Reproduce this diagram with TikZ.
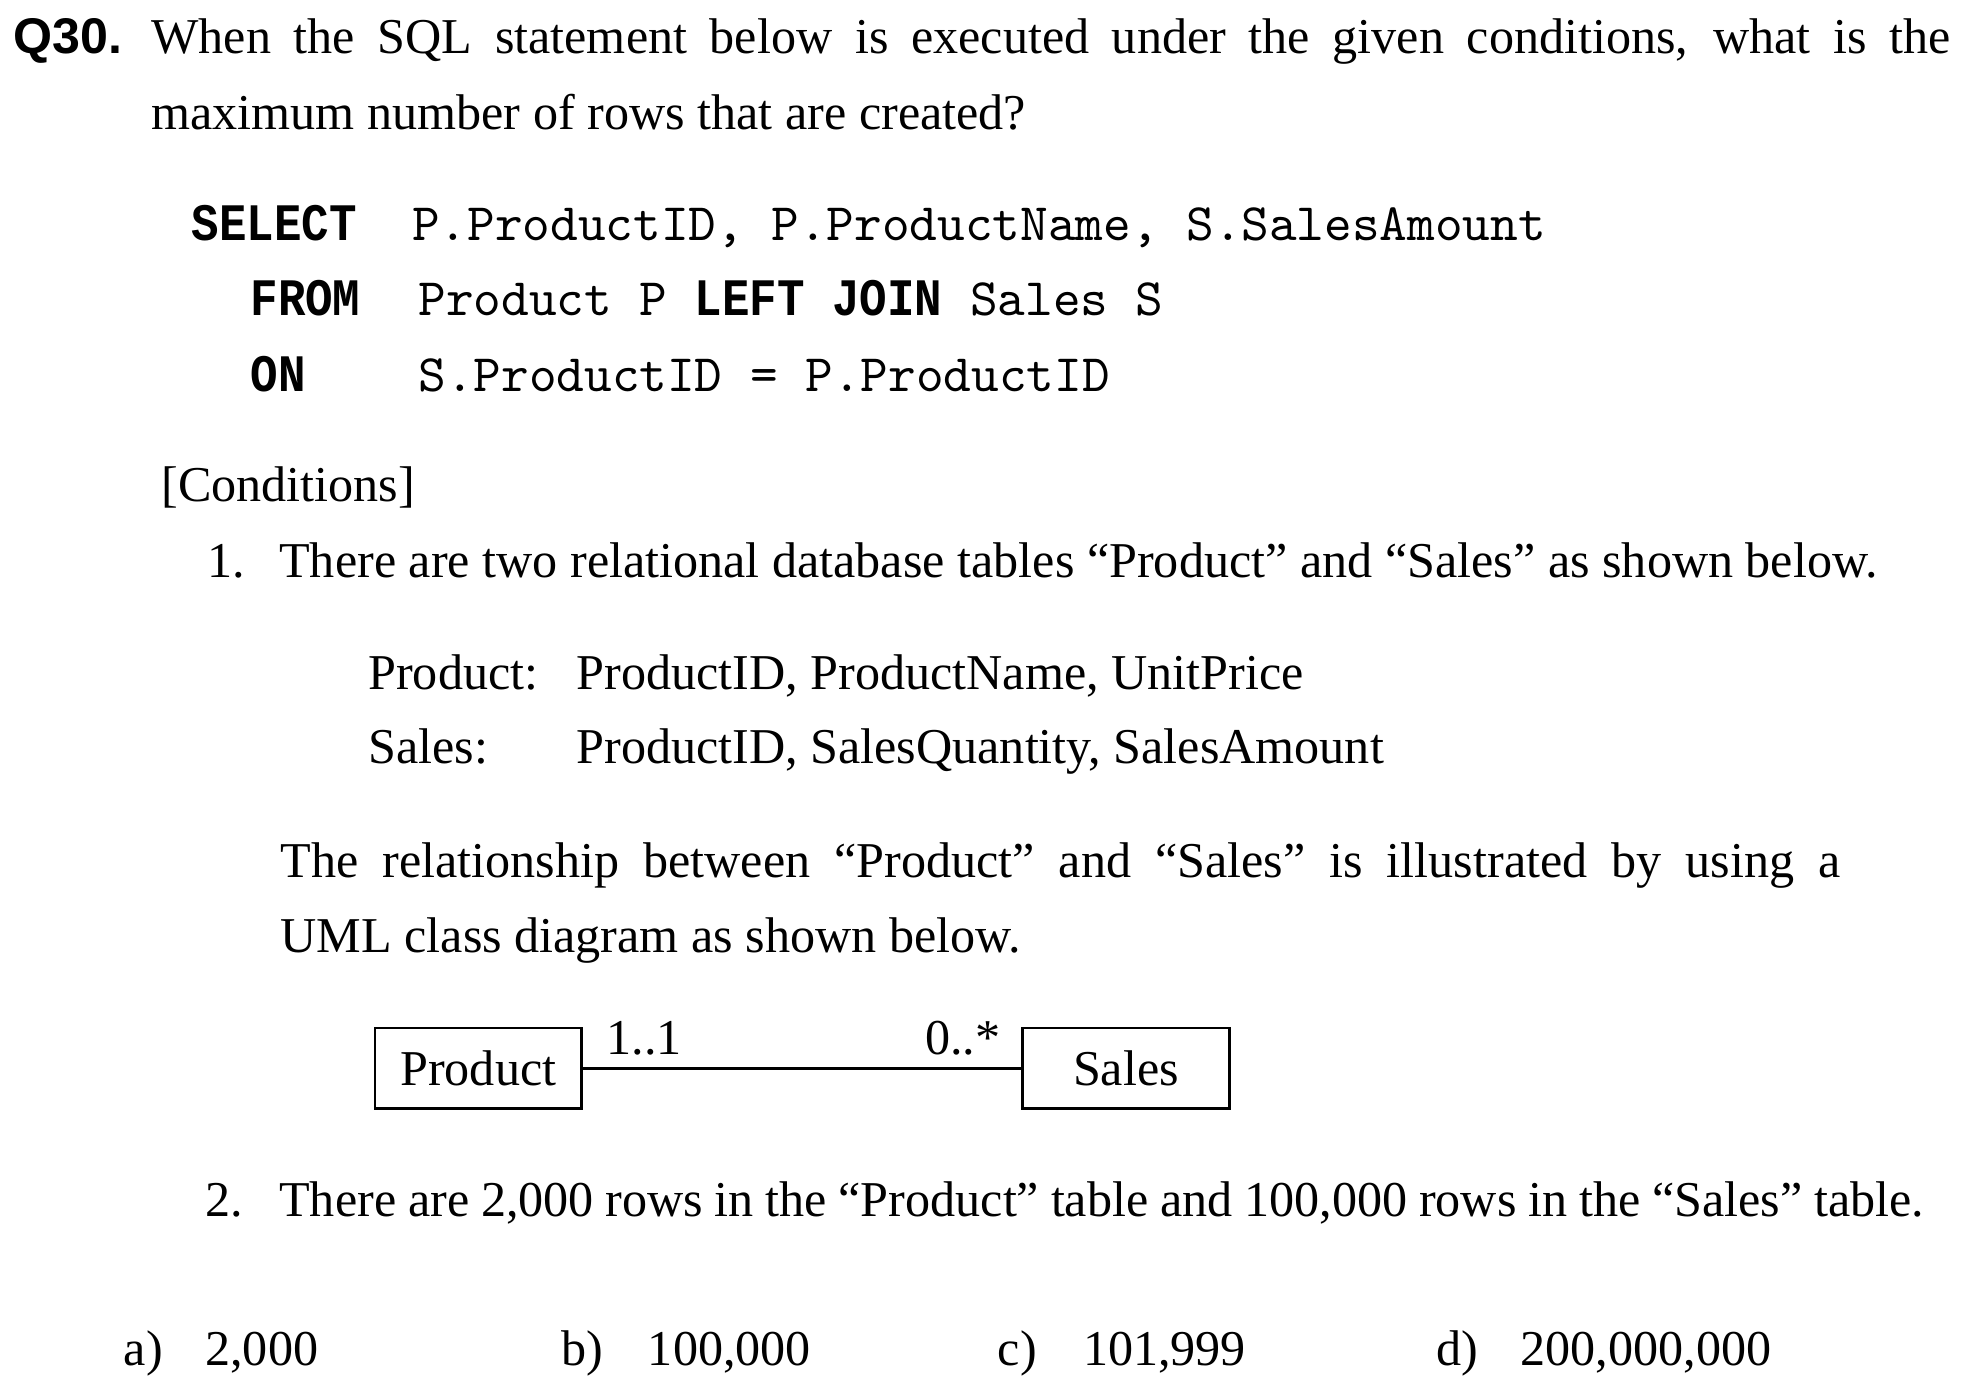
\documentclass[tikz,border=0pt]{standalone}
\usepackage{fontspec}
\setmainfont{Liberation Serif}
\newfontfamily\qfont{Liberation Sans}
\newfontfamily\kwfont[FakeStretch=0.87]{Liberation Mono}
\newfontfamily\codefont{Latin Modern Mono}
\usetikzlibrary{positioning}
\newcommand\kwd[1]{{\kwfont\bfseries #1}}

\begin{document}
\begin{tikzpicture}[
    x=0.25pt, y=-0.25pt,
    tx/.style={
        anchor=base west,
        inner sep=0pt,
        font=\fontsize{10pt}{12pt}\selectfont,
    },
    kw/.style={tx,font=\fontsize{10.5pt}{12pt}\kwfont\bfseries},
    cd/.style={tx,font=\fontsize{10.5pt}{12pt}\codefont},
    cls/.style={
        draw,
        line width=0.55pt,
        minimum width=41.25pt,
        minimum height=16pt,
        inner sep=0pt,
        font=\fontsize{10pt}{12pt}\selectfont,
    },
]
    \useasboundingbox (0,0) rectangle (1568,1109.4);
    % ~~~ question ~~~~~~~~~~~~
    \node[tx,font=\fontsize{10pt}{12pt}\qfont\bfseries] (qno) at (10,43) {Q30.};
    \node[tx] (qa) at (120,43) {\makebox[358.75pt][s]{When the SQL statement below is executed under the given conditions, what is the}};
    \node[tx] (qb) at (120,103) {maximum number of rows that are created?};
    % ~~~ sql statement ~~~~~~~~~~~~
    \node[kw] (kselect) at (152,192) {SELECT};
    \node[cd] (cselect) at (328,192) {P.ProductID, P.ProductName, S.SalesAmount};
    \node[kw] (kfrom) at (199,252) {FROM};
    \node[cd] (cfrom) at (333,252) {Product P \kwd{LEFT JOIN} Sales S};
    \node[kw] (kon) at (199,312) {ON};
    \node[cd] (con) at (333,312) {S.ProductID = P.ProductID};
    % ~~~ conditions ~~~~~~~~~~~~
    \node[tx] (cond) at (128,400) {[Conditions]};
    \node[tx] (na) at (165,461) {1.};
    \node[tx] (ta) at (222,461) {There are two relational database tables “Product” and “Sales” as shown below.};
    \node[tx] (lprod) at (293,550) {Product:};
    \node[tx] (aprod) at (459,550) {ProductID, ProductName, UnitPrice};
    \node[tx] (lsales) at (293,609) {Sales:};
    \node[tx] (asales) at (459,609) {ProductID, SalesQuantity, SalesAmount};
    \node[tx] (ra) at (223,700) {\makebox[311pt][s]{The relationship between “Product” and “Sales” is illustrated by using a}};
    \node[tx] (rb) at (223,760) {UML class diagram as shown below.};
    % ~~~ uml class diagram ~~~~~~~~~~~~
    \node[cls] (product) at (381.5,852) {Product};
    \node[cls] (sales) at (898,852) {Sales};
    \draw[line width=0.55pt] (product) -- (sales);
    \node[tx] (mprod) at (483,841) {1..1};
    \node[tx] (msales) at (737,841) {0..*};
    \node[tx] (nb) at (163,970) {2.};
    \node[tx] (tb) at (222,970) {\makebox[328pt][s]{There are 2,000 rows in the “Product” table and 100,000 rows in the “Sales” table.}};
    % ~~~ choices ~~~~~~~~~~~~
    \node[tx] (la) at (98,1089) {a)};
    \node[tx] (va) at (163,1089) {2,000};
    \node[tx] (lb) at (447,1089) {b)};
    \node[tx] (vb) at (516,1089) {100,000};
    \node[tx] (lc) at (795,1089) {c)};
    \node[tx] (vc) at (863,1089) {101,999};
    \node[tx] (ld) at (1145,1089) {d)};
    \node[tx] (vd) at (1212,1089) {200,000,000};
\end{tikzpicture}
\end{document}
